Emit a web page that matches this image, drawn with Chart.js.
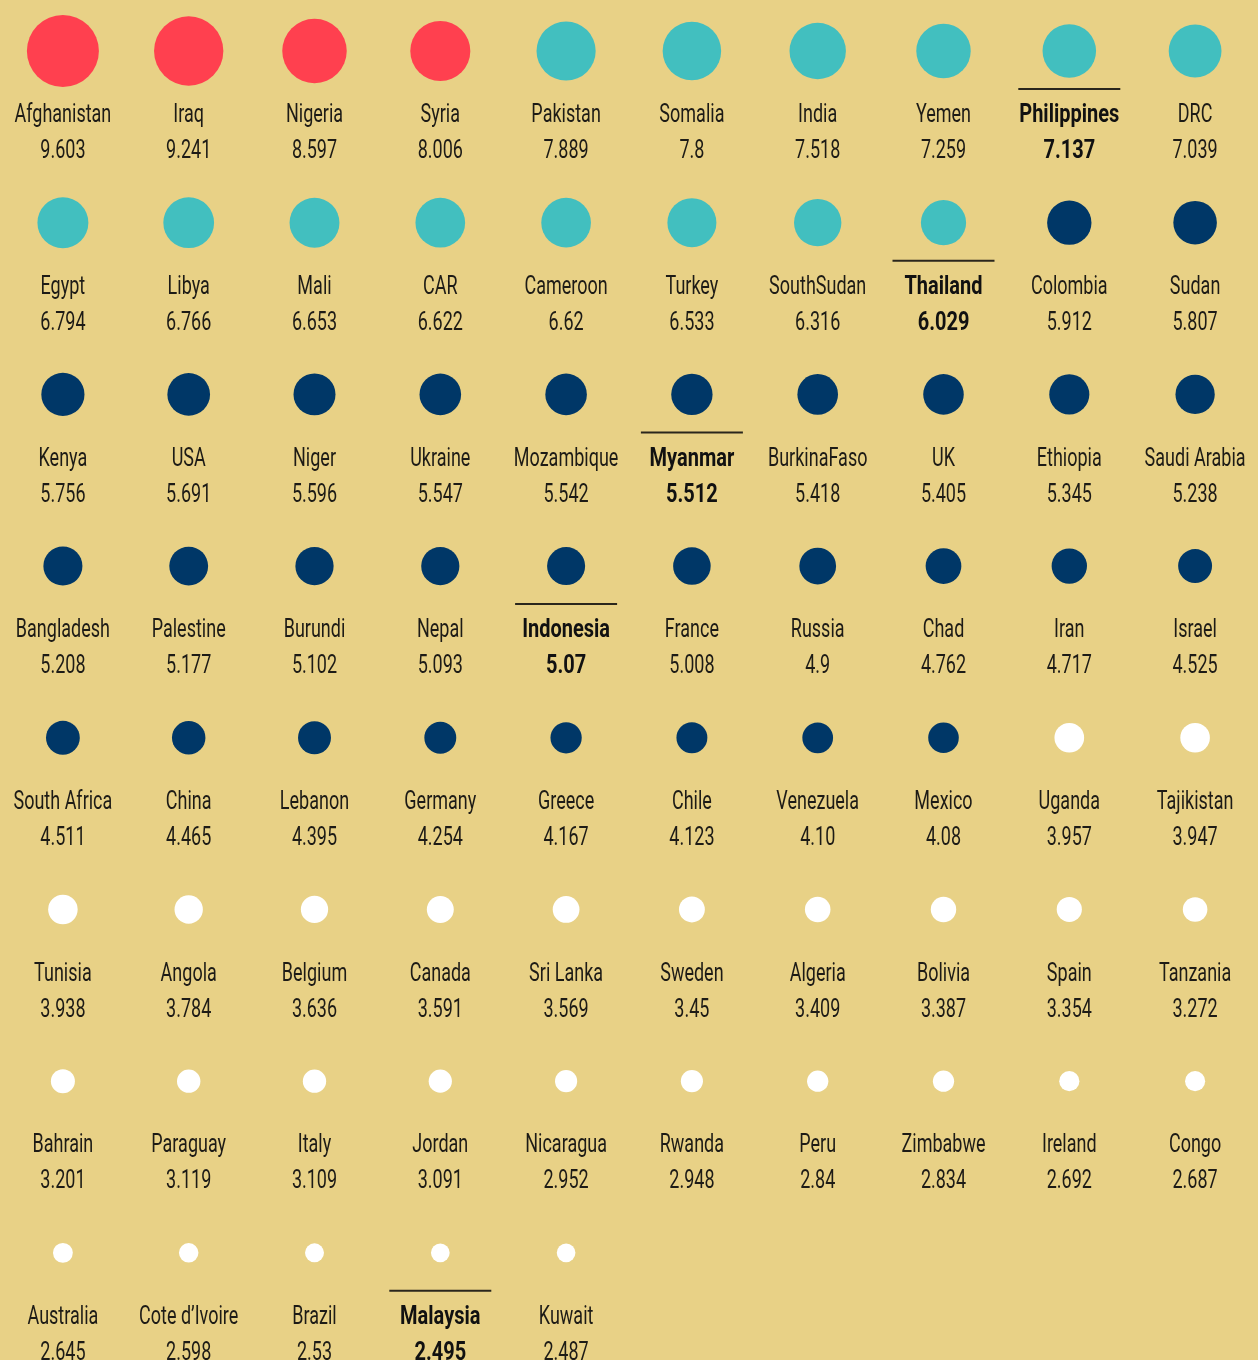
<!DOCTYPE html>
<html lang="en">
<head>
<meta charset="UTF-8">
<title>Country scores</title>
<script src="https://cdn.jsdelivr.net/npm/chart.js"></script>
<style>
  html, body { margin: 0; padding: 0; background: #e8d186; overflow: hidden; }
  .wrap { width: 1258px; height: 1360px; position: relative; }
</style>
</head>
<body>
<div class="wrap"><canvas id="chart"></canvas></div>
<script>
// countries in ranking order, 10 per row
const countries = [
  'Afghanistan', 'Iraq', 'Nigeria', 'Syria', 'Pakistan', 'Somalia', 'India', 'Yemen', 'Philippines', 'DRC',
  'Egypt', 'Libya', 'Mali', 'CAR', 'Cameroon', 'Turkey', 'SouthSudan', 'Thailand', 'Colombia', 'Sudan',
  'Kenya', 'USA', 'Niger', 'Ukraine', 'Mozambique', 'Myanmar', 'BurkinaFaso', 'UK', 'Ethiopia', 'Saudi Arabia',
  'Bangladesh', 'Palestine', 'Burundi', 'Nepal', 'Indonesia', 'France', 'Russia', 'Chad', 'Iran', 'Israel',
  'South Africa', 'China', 'Lebanon', 'Germany', 'Greece', 'Chile', 'Venezuela', 'Mexico', 'Uganda', 'Tajikistan',
  'Tunisia', 'Angola', 'Belgium', 'Canada', 'Sri Lanka', 'Sweden', 'Algeria', 'Bolivia', 'Spain', 'Tanzania',
  'Bahrain', 'Paraguay', 'Italy', 'Jordan', 'Nicaragua', 'Rwanda', 'Peru', 'Zimbabwe', 'Ireland', 'Congo',
  'Australia', 'Cote d\u2019Ivoire', 'Brazil', 'Malaysia', 'Kuwait'
];

// scores as printed under each country
const scoreLabels = [
  '9.603', '9.241', '8.597', '8.006', '7.889', '7.8', '7.518', '7.259', '7.137', '7.039',
  '6.794', '6.766', '6.653', '6.622', '6.62', '6.533', '6.316', '6.029', '5.912', '5.807',
  '5.756', '5.691', '5.596', '5.547', '5.542', '5.512', '5.418', '5.405', '5.345', '5.238',
  '5.208', '5.177', '5.102', '5.093', '5.07', '5.008', '4.9', '4.762', '4.717', '4.525',
  '4.511', '4.465', '4.395', '4.254', '4.167', '4.123', '4.10', '4.08', '3.957', '3.947',
  '3.938', '3.784', '3.636', '3.591', '3.569', '3.45', '3.409', '3.387', '3.354', '3.272',
  '3.201', '3.119', '3.109', '3.091', '2.952', '2.948', '2.84', '2.834', '2.692', '2.687',
  '2.645', '2.598', '2.53', '2.495', '2.487'
];
const scores = scoreLabels.map(Number);

const highlighted = ['Philippines', 'Thailand', 'Myanmar', 'Indonesia', 'Malaysia'];

const perRow = 10;
const pxPerPoint = 3.75;   // bubble radius per score point
const FONT = 'Roboto, "Liberation Sans", sans-serif';

function colorFor(v) {
  if (v >= 8) return '#ff404f';
  if (v >= 6) return '#42bfbf';
  if (v >= 4) return '#003767';
  return '#ffffff';
}

const points = scores.map((v, i) => ({
  x: i % perRow,
  y: Math.floor(i / perRow),
  r: v * pxPerPoint
}));

// no condensed face installed, so squeeze the text horizontally
function narrowText(ctx, text, x, y, squeeze) {
  ctx.save();
  ctx.translate(x, y);
  ctx.scale(squeeze, 1);
  ctx.fillText(text, 0, 0);
  ctx.restore();
}

// names, scores and the little rule over highlighted countries
const labelPlugin = {
  id: 'cellLabels',
  afterDatasetsDraw(chart) {
    const ctx = chart.ctx;
    const xs = chart.scales.x, ys = chart.scales.y;
    ctx.save();
    ctx.textAlign = 'center';
    ctx.textBaseline = 'middle';
    countries.forEach((name, i) => {
      const cx = xs.getPixelForValue(points[i].x);
      const cy = ys.getPixelForValue(points[i].y);
      const bold = highlighted.includes(name);
      const sq = bold ? 0.8 : 0.72;
      ctx.fillStyle = bold ? '#111' : '#1d1b16';
      ctx.font = (bold ? 'bold ' : '') + '25px ' + FONT;
      narrowText(ctx, name, cx, cy + 65, sq);
      narrowText(ctx, scoreLabels[i], cx, cy + 101, sq);
      if (bold) {
        ctx.strokeStyle = '#2a261c';
        ctx.lineWidth = 2;
        ctx.beginPath();
        ctx.moveTo(cx - 51, cy + 38);
        ctx.lineTo(cx + 51, cy + 38);
        ctx.stroke();
      }
    });
    ctx.restore();
  }
};

new Chart(document.getElementById('chart'), {
  type: 'bubble',
  data: {
    datasets: [{
      data: points,
      backgroundColor: scores.map(colorFor),
      hoverBackgroundColor: scores.map(colorFor),
      borderWidth: 0,
      hoverBorderWidth: 0,
      hoverRadius: 0,
      clip: false
    }]
  },
  options: {
    responsive: true,
    maintainAspectRatio: false,
    animation: false,
    layout: { padding: 0, autoPadding: false },
    scales: {
      x: { type: 'linear', min: -0.5, max: 9.5, display: false },
      y: { type: 'linear', min: -0.297, max: 7.624, reverse: true, display: false }
    },
    plugins: {
      legend: { display: false },
      tooltip: { enabled: false }
    }
  },
  plugins: [labelPlugin]
});
</script>
</body>
</html>
